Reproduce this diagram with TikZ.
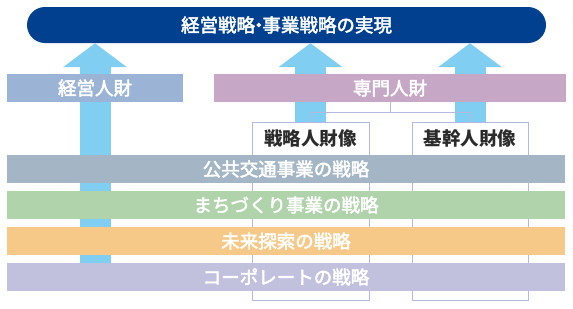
\documentclass[tikz,border=0pt]{standalone}
\usepackage{fontspec}
\setmainfont{Noto Sans CJK JP}
\newfontfamily\medio[FakeBold=2.5]{Noto Sans CJK JP}
\usetikzlibrary{arrows.meta, positioning, calc}
\definecolor{marino}{HTML}{00408E}
\definecolor{cielo}{HTML}{80CFF3}
\definecolor{azulgris}{HTML}{9BB3D5}
\definecolor{lila}{HTML}{C6A7C6}
\definecolor{pizarra}{HTML}{A4B6C5}
\definecolor{verde}{HTML}{B0D3AB}
\definecolor{ambar}{HTML}{F7C988}
\definecolor{lavanda}{HTML}{C1C1DE}
\definecolor{borde}{HTML}{B4B9E0}
\definecolor{tinta}{HTML}{2B2B2B}
\tikzset{
  meta/.style={rectangle, rounded corners=18pt, minimum width=519pt, minimum height=36pt,
               inner sep=0pt, fill=marino, text=white, font=\fontsize{18.5}{22}\medio},
  talento/.style={rectangle, minimum height=28pt, inner sep=0pt, text=white,
                  font=\fontsize{18.5}{22}\medio},
  barra/.style={rectangle, minimum width=558pt, minimum height=28pt, inner sep=0pt,
                text=white, font=\fontsize{18.5}{22}\medio},
  perfil/.style={rectangle, draw=borde, fill=white, line width=0.8pt,
                 minimum width=117pt, minimum height=178pt},
  rotulo/.style={text=tinta, font=\fontsize{18.5}{22}\selectfont\bfseries, inner sep=0pt},
  flecha/.style={line width=31pt, draw=cielo, -{Triangle[width=64pt,length=24pt,line width=0pt]}},
  llave/.style={draw=borde, line width=0.8pt}
}
\begin{document}
\begin{tikzpicture}[x=1pt, y=-1pt]
  \useasboundingbox (0,0) rectangle (573,308);
  \node (meta) [meta] at (286.5,25) {経営戦略\kern-.3em・\kern-.3em事業戦略の実現};
  \coordinate (fa) at (95,270);
  \coordinate (fb) at (310.5,130);
  \coordinate (fc) at (470,130);
  \draw [flecha] (fa) -- (meta.south -| fa);
  \draw [flecha] (fb) -- (meta.south -| fb);
  \draw [flecha] (fc) -- (meta.south -| fc);
  \node (estrategico) [perfil] at (310.5,211) {};
  \node at ([yshift=-17pt]estrategico.north) [rotulo] {戦略人財像};
  \node (nucleo) [perfil, minimum width=116pt] at (470,211) {};
  \node at ([yshift=-17pt]nucleo.north) [rotulo] {基幹人財像};
  \node (transporte) [barra, fill=pizarra] at (286,169) {公共交通事業の戦略};
  \node (ciudad) [barra, fill=verde] at (286,205) {まちづくり事業の戦略};
  \node (futuro) [barra, fill=ambar] at (286,241) {未来探索の戦略};
  \node (corporativo) [barra, fill=lavanda] at (286,277) {コーポレートの戦略};
  \node (gestion) [talento, fill=azulgris, minimum width=176pt] at (95,88) {経営人財};
  \node (experto) [talento, fill=lila, minimum width=352pt] at (390,88) {専門人財};
  \draw [llave] (experto.south) -- ++(0,10) -| (estrategico.north);
  \draw [llave] (experto.south) -- ++(0,10) -| (nucleo.north);
\end{tikzpicture}
\end{document}
